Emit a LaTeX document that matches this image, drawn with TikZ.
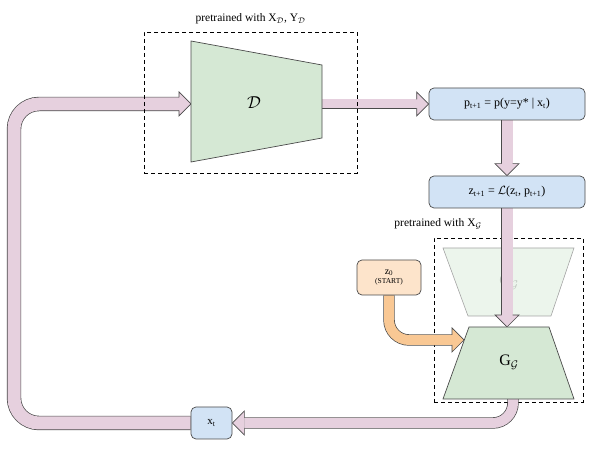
\documentclass[tikz,border=0pt]{standalone}
\usepackage{fontspec}
\setmainfont{Liberation Serif}
\usetikzlibrary{positioning,backgrounds}
\definecolor{pinkA}{HTML}{E6D0DE}
\definecolor{edge}{HTML}{4A4A4A}
\definecolor{blueA}{HTML}{D2E3F5}
\definecolor{greenA}{HTML}{D5E8D4}
\definecolor{orangeA}{HTML}{F9C894}
\definecolor{orangeB}{HTML}{FDE4CB}
\tikzset{
  box/.style={draw=edge, fill=blueA, rounded corners=5pt, line width=0.7pt,
    minimum width=156pt, minimum height=32pt, font=\fontsize{12}{14}\selectfont},
  trap/.style={draw=edge, fill=greenA, line width=0.7pt},
  dashbox/.style={draw, dash pattern=on 4pt off 3pt, line width=0.8pt},
  lbl/.style={font=\fontsize{11.5}{13}\selectfont},
  fat/.style={draw=edge, double=pinkA, double distance=#1, line width=0.7pt},
  fat/.default=11pt,
  headpk/.style={fill=pinkA, draw=edge, line width=0.7pt},
  pics/fathead/.style={code={
    \filldraw[pic actions] (-12,#1) -- (-12,12) -- (0,0) -- (-12,-12) -- (-12,-#1);}},
}
\begin{document}
\begin{tikzpicture}[x=1pt,y=1pt]
  \useasboundingbox (0,0) rectangle (598,449);
  % boxes
  \node[box] (p) at (507,345) {p\textsubscript{t+1} = p(y=y* | x\textsubscript{t})};
  \node[box] (z) at (507,257) {z\textsubscript{t+1} = $\mathcal{L}$(z\textsubscript{t}, p\textsubscript{t+1})};
  \node[box, minimum width=41pt, font=\fontsize{11}{13}\selectfont] (xt) at (211.5,26) {x\textsubscript{t}};
  \node[box, fill=orangeB, minimum width=64pt, minimum height=35pt, align=center,
    font=\fontsize{10}{11}\selectfont] (z0) at (389,171.5)
    {z\textsubscript{0}\\[-2pt]{\fontsize{7.5}{8}\selectfont (START)}};
  % discriminator
  \draw[trap] (191,408) -- (322,384) -- (322,311) -- (191,287) -- cycle;
  \node[font=\fontsize{16}{18}\selectfont] (Dlab) at (254,346) {$\mathcal{D}$};
  \coordinate (Din) at (191,345);
  \coordinate (Dout) at (322,345);
  \node[dashbox, minimum width=213pt, minimum height=141pt] (Dbox) at (250.5,346.5) {};
  \node[lbl, above=4pt] at (Dbox.north) {pretrained with X\textsubscript{$\mathcal{D}$}, Y\textsubscript{$\mathcal{D}$}};
  % generator
  \draw[trap] (469,122) -- (549,122) -- (574,50) -- (443,50) -- cycle;
  \node[font=\fontsize{16}{18}\selectfont] (Glab) at (509,87) {G\textsubscript{$\mathcal{G}$}};
  \coordinate (Gtop) at (507,122);
  \coordinate (Gbot) at (513,50);
  \coordinate (Gleft) at (464,109);
  \node[lbl] (Glbl) at (438,225) {pretrained with X\textsubscript{$\mathcal{G}$}};

  \begin{scope}[on background layer]
    % faded copy
    \draw[draw=edge!50, fill=greenA!45, line width=0.6pt] (443,201) -- (574,201) -- (551,133) -- (468,133) -- cycle;
    \node[opacity=0.2, font=\fontsize{16}{18}\selectfont] at (509,167) {G\textsubscript{$\mathcal{G}$}};
    \node[dashbox, minimum width=149pt, minimum height=164pt] (Gbox) at (508.5,129) {};
    % arrows
    \draw[fat=9pt] (Dout) -- ([xshift=-12pt]p.west);
    \pic[headpk] at (p.west) {fathead=4.5};
    \draw[fat] (p.south) -- ([yshift=12pt]z.north);
    \pic[headpk, rotate=-90] at (z.north) {fathead=5.5};
    \draw[fat] (z.south) -- ([yshift=12pt]Gtop);
    \pic[headpk, rotate=-90] at (Gtop) {fathead=5.5};
    \draw[fat=10pt, rounded corners=20pt] (Gbot) |- ([xshift=12pt]xt.east);
    \pic[headpk, rotate=180] at (xt.east) {fathead=5};
    \draw[fat=13pt, rounded corners=25pt] (xt.west) -- (14,26) |- ([xshift=-12pt]Din);
    \pic[headpk] at (Din) {fathead=6.5};
    \draw[fat=10pt, double=orangeA, rounded corners=20pt] (z0.south) |- ([xshift=-12pt]Gleft);
    \pic[headpk, fill=orangeA] at (Gleft) {fathead=5};
  \end{scope}
\end{tikzpicture}
\end{document}
